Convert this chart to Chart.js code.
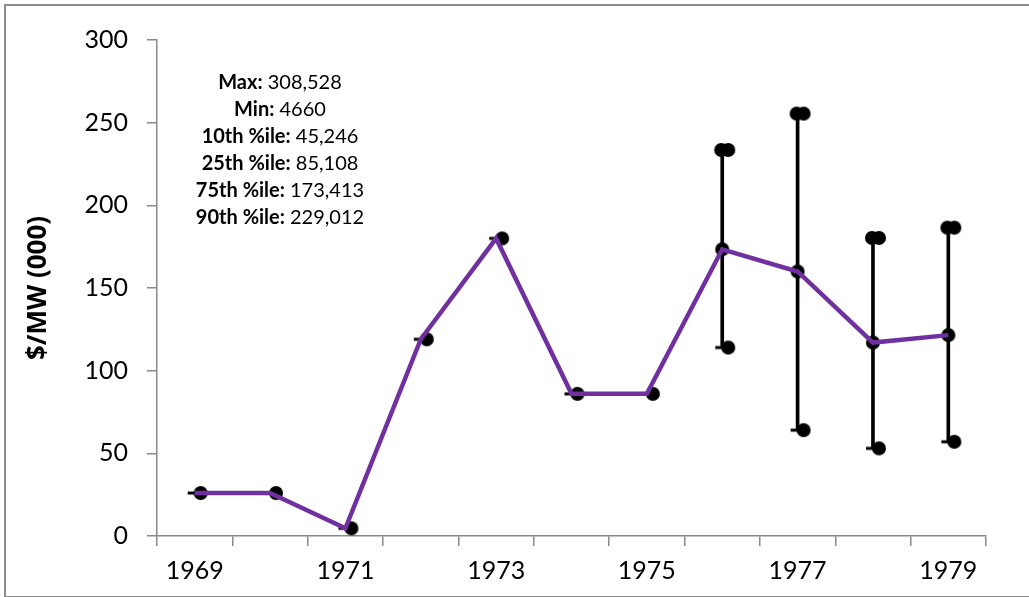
<!DOCTYPE html>
<html>
<head>
<meta charset="utf-8">
<script src="https://cdn.jsdelivr.net/npm/chart.js@4.4.1/dist/chart.umd.min.js"></script>
<style>
  body { margin: 0; background: #fff; }
  #wrap { position: relative; width: 1029px; height: 597px; overflow: hidden; }
  #frame { position: absolute; left: 4px; top: 4px; width: 1060px; height: 590px; border: 2px solid #8c8c8c; pointer-events: none; }
  canvas { position: absolute; left: 0; top: 0; }
</style>
</head>
<body>
<div id="wrap">
  <canvas id="chart" width="1029" height="597"></canvas>
  <div id="frame"></div>
</div>
<script>
const years = ['1969', '1970', '1971', '1972', '1973', '1974', '1975', '1976', '1977', '1978', '1979']
const medianValues = [26, 26, 4.66, 119, 180, 86, 86, 173.4, 160, 117, 121.5]
const highValues = [null, null, null, null, null, null, null, 233.5, 255.5, 180.3, 186.5]
const lowValues = [null, null, null, null, null, null, null, 114, 64, 53, 57]
const statLabels = ['Max:', 'Min:', '10th %ile:', '25th %ile:', '75th %ile:', '90th %ile:']
const statValues = ['308,528', '4660', '45,246', '85,108', '173,413', '229,012']
const yTicks = [0, 50, 100, 150, 200, 250, 300]

const purple = '#7030A0'
const axisGrey = '#898989'
const font = 'Lato, "Open Sans", sans-serif'

// marker canvases: Excel drew its markers a little to the right of the point
function makeMarker(kind) {
  const c = document.createElement('canvas')
  c.width = 30
  c.height = 16
  const g = c.getContext('2d')
  const cx = 15
  const cy = 8
  g.fillStyle = '#000'
  if (kind === 'dashdot') {
    g.fillRect(cx - 7, cy - 1.5, 7, 3)
    g.beginPath(); g.arc(cx + 6, cy, 7, 0, Math.PI * 2); g.fill()
  } else if (kind === 'double') {
    g.beginPath(); g.arc(cx - 1, cy, 7, 0, Math.PI * 2); g.fill()
    g.beginPath(); g.arc(cx + 6, cy, 7, 0, Math.PI * 2); g.fill()
  } else {
    g.beginPath(); g.arc(cx, cy, 7, 0, Math.PI * 2); g.fill()
  }
  return c
}
const dashDot = makeMarker('dashdot')
const doubleDot = makeMarker('double')
const plainDot = makeMarker('plain')

const statsBox = {
  id: 'statsBox',
  afterDraw(chart) {
    const ctx = chart.ctx
    const x = chart.chartArea.left + 123
    const y0 = 83
    const step = 27
    ctx.save()
    ctx.textBaseline = 'middle'
    ctx.fillStyle = '#000'
    statLabels.forEach((label, i) => {
      const value = ' ' + statValues[i]
      ctx.font = 'bold 20px ' + font
      const w1 = ctx.measureText(label).width
      ctx.font = '20px ' + font
      const w2 = ctx.measureText(value).width
      const start = x - (w1 + w2) / 2
      ctx.font = 'bold 20px ' + font
      ctx.textAlign = 'left'
      ctx.fillText(label, start, y0 + i * step)
      ctx.font = '20px ' + font
      ctx.fillText(value, start + w1, y0 + i * step)
    })
    ctx.restore()
  }
}

const ctx = document.getElementById('chart').getContext('2d')

const chart = new Chart(ctx, {
  type: 'bar',
  data: {
    labels: years,
    datasets: [
      {
        type: 'line',
        label: 'median',
        data: medianValues,
        borderColor: purple,
        borderWidth: 4.5,
        pointRadius: 0,
        tension: 0,
        order: 0
      },
      {
        type: 'line',
        label: 'points',
        data: medianValues,
        showLine: false,
        pointStyle: c => (highValues[c.dataIndex] == null ? dashDot : plainDot),
        order: 1
      },
      {
        type: 'line',
        label: 'high',
        data: highValues,
        showLine: false,
        pointStyle: doubleDot,
        order: 1
      },
      {
        type: 'line',
        label: 'low',
        data: lowValues,
        showLine: false,
        pointStyle: dashDot,
        order: 1
      },
      {
        type: 'bar',
        label: 'range',
        data: years.map((_, i) => (lowValues[i] == null ? null : [lowValues[i], highValues[i]])),
        backgroundColor: '#000',
        barThickness: 3,
        order: 2
      }
    ]
  },
  options: {
    responsive: false,
    animation: false,
    layout: { padding: { left: 5, right: 43, top: 40, bottom: 0 } },
    plugins: {
      legend: { display: false },
      tooltip: { enabled: false }
    },
    scales: {
      x: {
        offset: true,
        grid: { offset: true, drawOnChartArea: false, drawTicks: true, tickLength: 10, color: axisGrey, lineWidth: 1.5 },
        border: { color: axisGrey, width: 1.5 },
        ticks: {
          autoSkip: false,
          maxRotation: 0,
          padding: 10,
          color: '#000',
          font: { family: font, size: 25 },
          callback: (v, i) => (i % 2 === 0 ? years[i] : '')
        },
        afterFit: scale => { scale.height = 61 }
      },
      y: {
        min: 0,
        max: 300,
        afterBuildTicks: scale => { scale.ticks = yTicks.map(v => ({ value: v })) },
        grid: { drawOnChartArea: false, drawTicks: true, tickLength: 10, color: axisGrey, lineWidth: 1.5 },
        border: { color: axisGrey, width: 1.5 },
        ticks: {
          padding: 19,
          color: '#000',
          font: { family: font, size: 25 }
        },
        title: {
          display: true,
          text: '$/MW (000)',
          color: '#000',
          font: { family: '"Open Sans", Lato, sans-serif', size: 26, weight: 'bold' },
          padding: { top: 18, bottom: 0 }
        },
        afterFit: scale => { scale.width = 152 }
      }
    }
  },
  plugins: [statsBox]
})
</script>
</body>
</html>
